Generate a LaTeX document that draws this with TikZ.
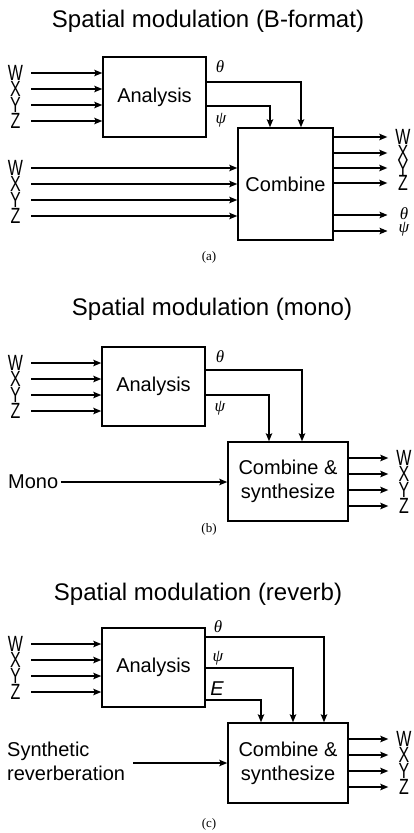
\documentclass[tikz,border=0pt]{standalone}
\usepackage{fontspec}
\setmainfont{Liberation Serif}
\setsansfont{Liberation Sans}
\usepackage{graphicx}
\usetikzlibrary{arrows.meta}
\tikzset{
 arr/.style={line width=1.4pt,-{Stealth[length=8pt,width=6.5pt,inset=1.5pt]}},
 blk/.style={draw,line width=1.5pt,inner sep=0pt,font=\sffamily\fontsize{20}{24}\selectfont,align=center},
 ch/.style={inner sep=0pt,minimum width=31pt,font=\sffamily\fontsize{20}{24}\selectfont},
 mch/.style={inner sep=0pt,minimum width=31pt,font=\rmfamily\itshape\fontsize{17}{19}\selectfont},
 ttl/.style={font=\sffamily\fontsize{24}{28}\selectfont,anchor=base},
 capt/.style={font=\rmfamily\fontsize{13}{15}\selectfont},
 ang/.style={inner sep=0pt,font=\rmfamily\itshape\fontsize{17}{19}\selectfont},
 txt/.style={font=\sffamily\fontsize{20}{24}\selectfont},
}
\newcommand{\sq}[1]{\scalebox{0.8}[1.1]{#1}}
\begin{document}
\begin{tikzpicture}[x=1pt,y=-1pt]
\useasboundingbox (0,0) rectangle (414,833);
% ---------- (a)
\node[ttl] (ta) at (208,27) {Spatial modulation (B-format)};
\node[blk,minimum width=103pt,minimum height=80pt] (Aa) at (154.5,97) {Analysis};
\node[blk,minimum width=95pt,minimum height=112pt] (Ca) at (285.5,184) {Combine};
\foreach \y/\l/\n in {73/W/1,89/X/2,105/Y/3,121/Z/4}{
  \node[ch] (ia\n) at (15.5,\y) {\sq{\l}};
  \draw[arr] (ia\n) -- (ia\n -| Aa.west);}
\foreach \y/\l/\n in {168/W/1,184/X/2,200/Y/3,216/Z/4}{
  \node[ch] (ja\n) at (15.5,\y) {\sq{\l}};
  \draw[arr] (ja\n) -- (ja\n -| Ca.west);}
\foreach \y/\l/\n in {137/W/1,153/X/2,168/Y/3,183/Z/4}{
  \node[ch] (oa\n) at (403,\y) {\sq{\l}};
  \draw[arr] (oa\n -| Ca.east) -- (oa\n);}
\node[mch] (oat) at (404,214) {θ};
\coordinate (tout) at (387.5,215);
\draw[arr] (tout -| Ca.east) -- (tout);
\node[mch] (oap) at (404,229) {ψ};
\coordinate (pout) at (387.5,231);
\draw[arr] (pout -| Ca.east) -- (pout);
\coordinate (fta) at (301,82);
\coordinate (fpa) at (270,106);
\draw[arr] (Aa.east |- fta) -| (Ca.north -| fta);
\draw[arr] (Aa.east |- fpa) -| (Ca.north -| fpa);
\node[ang] (lta) at (220,67) {θ};
\node[ang] (lpa) at (221,120) {ψ};
\node[capt] (capa) at (209,257) {(a)};
% ---------- (b)
\node[ttl] (tb) at (212,315) {Spatial modulation (mono)};
\node[blk,minimum width=103pt,minimum height=79pt] (Ab) at (153.5,386.5) {Analysis};
\node[blk,minimum width=120pt,minimum height=79pt] (Cb) at (288,481.5) {Combine \&\\synthesize};
\foreach \y/\l/\n in {363/W/1,379/X/2,395/Y/3,411/Z/4}{
  \node[ch] (ib\n) at (15.5,\y) {\sq{\l}};
  \draw[arr] (ib\n) -- (ib\n -| Ab.west);}
\foreach \y/\l/\n in {458/W/1,474/X/2,490/Y/3,506/Z/4}{
  \node[ch] (ob\n) at (404,\y) {\sq{\l}};
  \draw[arr] (ob\n -| Cb.east) -- (ob\n);}
\coordinate (ftb) at (302,370);
\coordinate (fpb) at (269,395);
\draw[arr] (Ab.east |- ftb) -| (Cb.north -| ftb);
\draw[arr] (Ab.east |- fpb) -| (Cb.north -| fpb);
\node[ang] (ltb) at (220,357) {θ};
\node[ang] (lpb) at (220,408) {ψ};
\node[txt,inner sep=0pt,inner xsep=2.5pt,anchor=west] (mono) at (5.5,482) {Mono};
\draw[arr] (mono) -- (mono -| Cb.west);
\node[capt] (capb) at (209,529) {(b)};
% ---------- (c)
\node[ttl] (tc) at (198,600) {Spatial modulation (reverb)};
\node[blk,minimum width=103pt,minimum height=79pt] (Ac) at (153.5,667.5) {Analysis};
\node[blk,minimum width=120pt,minimum height=80pt] (Cc) at (288,763) {Combine \&\\synthesize};
\foreach \y/\l/\n in {644/W/1,660/X/2,676/Y/3,692/Z/4}{
  \node[ch] (ic\n) at (15.5,\y) {\sq{\l}};
  \draw[arr] (ic\n) -- (ic\n -| Ac.west);}
\foreach \y/\l/\n in {739/W/1,755/X/2,771/Y/3,787/Z/4}{
  \node[ch] (oc\n) at (404,\y) {\sq{\l}};
  \draw[arr] (oc\n -| Cc.east) -- (oc\n);}
\coordinate (ftc) at (324,637);
\coordinate (fpc) at (293,668);
\coordinate (fec) at (261,700);
\draw[arr] (Ac.east |- ftc) -| (Cc.north -| ftc);
\draw[arr] (Ac.east |- fpc) -| (Cc.north -| fpc);
\draw[arr] (Ac.east |- fec) -| (Cc.north -| fec);
\node[ang] (ltc) at (218,627) {θ};
\node[ang] (lpc) at (218,658) {ψ};
\node[inner sep=0pt,font=\sffamily\itshape\fontsize{20}{22}\selectfont] (lec) at (217,689) {E};
\node[txt,inner sep=0pt,anchor=west,align=left] (sr) at (7,761) {Synthetic\\reverberation};
\coordinate (srs) at (133,763);
\draw[arr] (srs) -- (srs -| Cc.west);
\node[capt] (capc) at (209,824) {(c)};
\end{tikzpicture}
\end{document}
